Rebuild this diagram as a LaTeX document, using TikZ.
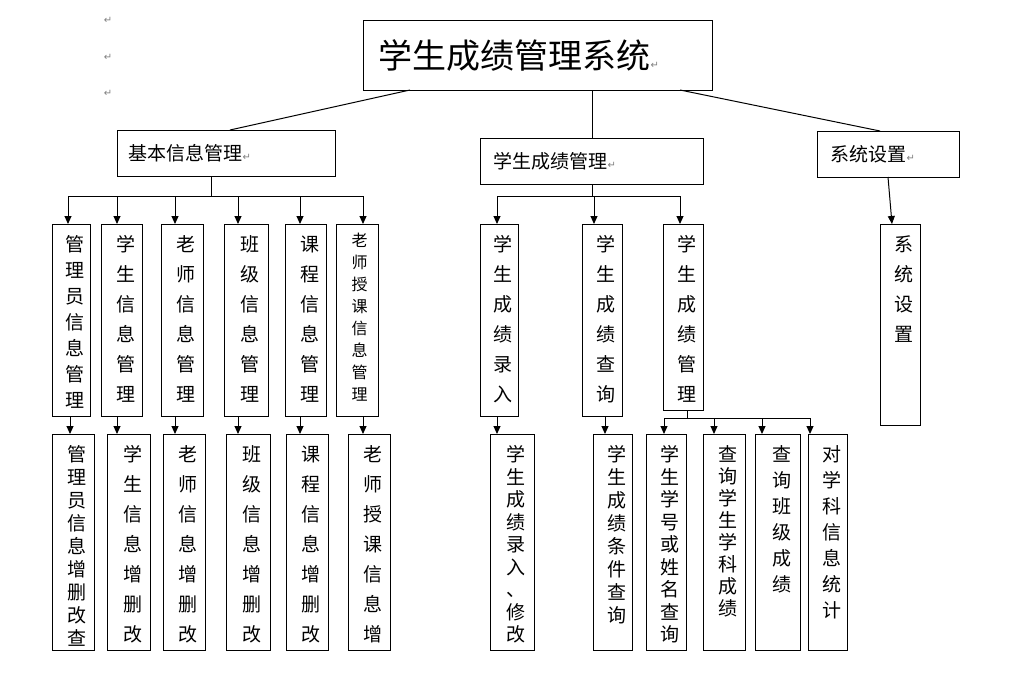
\documentclass[tikz,border=0pt]{standalone}
\usepackage{fontspec}
\setmainfont{Noto Sans CJK SC}
\newfontfamily\djv{DejaVu Sans}
\usetikzlibrary{arrows.meta}
\newcommand{\rmk}{{\djv\color{gray}\fontsize{10}{10}\selectfont ↵}}
\newcommand{\vtxt}[2]{\parbox{1.2em}{\centering\fontsize{19}{#1}\selectfont #2}}
\tikzset{
  bx/.style={draw,line width=1pt,anchor=north west,inner sep=0pt},
  ln/.style={line width=1pt},
  ar/.style={line width=1pt,-{Triangle[length=8pt,width=7pt]}},
}
\begin{document}
\begin{tikzpicture}[x=1pt,y=-1pt]
\useasboundingbox (0,0) rectangle (1020,673);
% paragraph marks
\node[gray] (m1) at (108,20) {\rmk};
\node[gray] (m2) at (108,57) {\rmk};
\node[gray] (m3) at (108,93) {\rmk};
% title
\node[bx,minimum width=349pt,minimum height=70pt] (t) at (363,20) {};
\node[anchor=west] (tt) at ([xshift=12pt]t.west) {\fontsize{34}{34}\selectfont 学生成绩管理系统\rmk};
% level 1
\node[bx,minimum width=218pt,minimum height=46pt] (a) at (117,130) {};
\node[anchor=west] (at) at ([xshift=8pt]a.west) {\fontsize{19}{19}\selectfont 基本信息管理\rmk};
\node[bx,minimum width=223pt,minimum height=46pt] (b) at (480,138) {};
\node[anchor=west] (bt) at ([xshift=10pt]b.west) {\fontsize{19}{19}\selectfont 学生成绩管理\rmk};
\node[bx,minimum width=142pt,minimum height=46pt] (c) at (817,131) {};
\node[anchor=west] (ct) at ([xshift=10pt]c.west) {\fontsize{19}{19}\selectfont 系统设置\rmk};
\coordinate (t1) at (410,90); \coordinate (a1) at (230,130);
\coordinate (t2) at (592,90); \coordinate (b1) at (592,138);
\coordinate (t3) at (680,90); \coordinate (c1) at (880,131);
\draw[ln] (t1) -- (a1); \draw[ln] (t2) -- (b1); \draw[ln] (t3) -- (c1);
% level 2 left
\foreach \n/\x/\w/\s/\txt in {
 p1/52/38/26/管\\理\\员\\信\\息\\管\\理,
 p2/101/41/30/学\\生\\信\\息\\管\\理,
 p3/161/42/30/老\\师\\信\\息\\管\\理,
 p4/224/44/30/班\\级\\信\\息\\管\\理,
 p5/285/41/30/课\\程\\信\\息\\管\\理}{
 \node[bx,minimum width=\w pt,minimum height=192pt] (\n) at (\x,224) {};
 \node[anchor=north] (\n t) at ([yshift=-8pt]\n.north) {\vtxt{\s}{\txt}};
}
\node[bx,minimum width=42pt,minimum height=192pt] (p6) at (336,224) {};
\node[anchor=north] (p6t) at ([yshift=-6pt]p6.north) {\parbox{1.2em}{\centering\fontsize{16}{22}\selectfont 老\\师\\授\\课\\信\\息\\管\\理}};
% level 3 left
\foreach \n/\x/\w/\s/\txt in {
 q1/52/42/23/管\\理\\员\\信\\息\\增\\删\\改\\查,
 q2/107/43/30/学\\生\\信\\息\\增\\删\\改,
 q3/163/42/30/老\\师\\信\\息\\增\\删\\改,
 q4/226/44/30/班\\级\\信\\息\\增\\删\\改,
 q5/286/42/30/课\\程\\信\\息\\增\\删\\改,
 q6/348/42/30/老\\师\\授\\课\\信\\息\\增}{
 \node[bx,minimum width=\w pt,minimum height=216pt] (\n) at (\x,434) {};
 \node[anchor=north] (\n t) at ([yshift=-8pt]\n.north) {\vtxt{\s}{\txt}};
}
\coordinate (aj) at (211,196);
\coordinate (ah1) at (68,196); \coordinate (ah2) at (363,196);
\draw[ln] (a.south -| aj) -- (aj);
\draw[ln] (ah1) -- (ah2);
\foreach \n/\x in {p1/68,p2/117,p3/175,p4/238,p5/300,p6/363}{
 \coordinate (j\n) at (\x,196);
 \draw[ar] (j\n) -- (j\n |- \n.north);
}
\foreach \p/\q/\x in {p1/q1/70,p2/q2/117,p3/q3/175,p4/q4/238,p5/q5/300,p6/q6/363}{
 \coordinate (k\q) at (\x,416);
 \draw[ar] (k\q) -- (k\q |- \q.north);
}
% middle
\node[bx,minimum width=38pt,minimum height=192pt] (r1) at (480,224) {};
\node[anchor=north] (r1t) at ([yshift=-8pt]r1.north) {\vtxt{30}{学\\生\\成\\绩\\录\\入}};
\node[bx,minimum width=40pt,minimum height=192pt] (r2) at (582,224) {};
\node[anchor=north] (r2t) at ([yshift=-8pt]r2.north) {\vtxt{30}{学\\生\\成\\绩\\查\\询}};
\node[bx,minimum width=40pt,minimum height=186pt] (r3) at (663,224) {};
\node[anchor=north] (r3t) at ([yshift=-8pt]r3.north) {\vtxt{30}{学\\生\\成\\绩\\管\\理}};
\coordinate (bj) at (592,196);
\coordinate (bh1) at (497,196); \coordinate (bh2) at (680,196);
\draw[ln] (b.south -| bj) -- (bj);
\draw[ln] (bh1) -- (bh2);
\foreach \n/\x in {r1/497,r2/594,r3/680}{
 \coordinate (j\n) at (\x,196);
 \draw[ar] (j\n) -- (j\n |- \n.north);
}
\node[bx,minimum width=44pt,minimum height=216pt] (s1) at (490,434) {};
\node[anchor=north] (s1t) at ([yshift=-8pt]s1.north) {\vtxt{22.5}{学\\生\\成\\绩\\录\\入\\、\\修\\改}};
\node[bx,minimum width=39pt,minimum height=216pt] (s2) at (593,434) {};
\node[anchor=north] (s2t) at ([yshift=-8pt]s2.north) {\vtxt{23}{学\\生\\成\\绩\\条\\件\\查\\询}};
\draw[ar] (r1.south -| 497,0) -- (s1.north -| 497,0);
\draw[ar] (r2.south -| 605,0) -- (s2.north -| 605,0);
\node[bx,minimum width=40pt,minimum height=216pt] (u1) at (646,434) {};
\node[anchor=north] (u1t) at ([yshift=-8pt]u1.north) {\vtxt{22.5}{学\\生\\学\\号\\或\\姓\\名\\查\\询}};
\node[bx,minimum width=42pt,minimum height=216pt] (u2) at (703,434) {};
\node[anchor=north] (u2t) at ([yshift=-8pt]u2.north) {\vtxt{22}{查\\询\\学\\生\\学\\科\\成\\绩}};
\node[bx,minimum width=45pt,minimum height=216pt] (u3) at (755,434) {};
\node[anchor=north] (u3t) at ([yshift=-8pt]u3.north) {\vtxt{26}{查\\询\\班\\级\\成\\绩}};
\node[bx,minimum width=39pt,minimum height=216pt] (u4) at (808,434) {};
\node[anchor=north] (u4t) at ([yshift=-8pt]u4.north) {\vtxt{26}{对\\学\\科\\信\\息\\统\\计}};
\coordinate (cj) at (687,418);
\coordinate (ch1) at (664,418); \coordinate (ch2) at (810,418);
\draw[ln] (r3.south -| cj) -- (cj);
\draw[ln] (ch1) -- (ch2);
\foreach \n/\x in {u1/664,u2/714,u3/762,u4/810}{
 \coordinate (j\n) at (\x,418);
 \draw[ar] (j\n) -- (j\n |- \n.north);
}
% right
\node[bx,minimum width=40pt,minimum height=201pt] (v1) at (880,224) {};
\node[anchor=north] (v1t) at ([yshift=-8pt]v1.north) {\vtxt{30}{系\\统\\设\\置}};
\coordinate (cs) at (888,177);
\draw[ar] (cs) -- (892,224);
\end{tikzpicture}
\end{document}
